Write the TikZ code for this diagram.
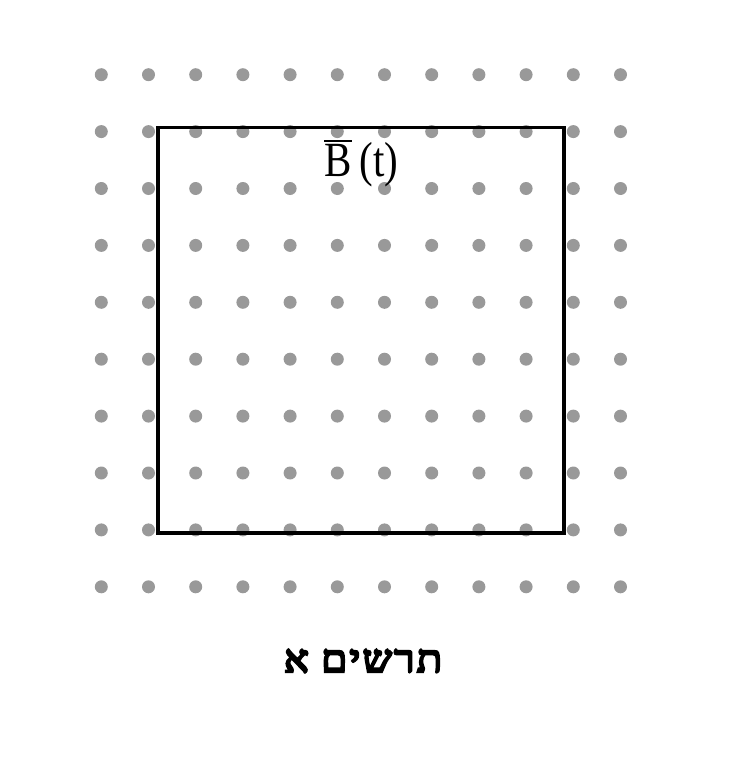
\documentclass[tikz,border=0pt]{standalone}
\usepackage{fontspec}
\setmainfont{Liberation Serif}
\newfontfamily\hebfont[Script=Hebrew,FakeBold=6,LetterSpace=6]{Liberation Serif}
\TeXXeTstate=1
\definecolor{dotgray}{HTML}{999999}
\tikzset{
  griddot/.style={circle, fill=dotgray, inner sep=0pt, minimum size=13pt},
  frame/.style={draw=black, line width=3.3pt},
  lbl/.style={inner sep=0pt, font=\fontsize{41}{45}\selectfont},
  caption/.style={inner sep=0pt, font=\hebfont\fontsize{38}{42}\selectfont}
}
\begin{document}
\begin{tikzpicture}[x=1pt,y=-1pt]
\useasboundingbox (0,0) rectangle (730,760);
\foreach \i in {0,...,11}{
  \foreach \j in {0,...,9}{
    \node[griddot] (d\i-\j) at ({101.3+47.2*\i},{74.7+56.9*\j}) {};
  }
}
\coordinate (tl) at (158,127.5);
\coordinate (br) at (564,533);
\draw[frame] (tl) rectangle (br);
\node[lbl, anchor=base] (B) at (361.4,176.7) {\scalebox{1}[1.2]{\makebox[0pt][l]{\rule[29pt]{28pt}{1.2pt}}B\hspace{8pt}(t)}};
\node[caption, anchor=base] (cap) at (363,672) {\scalebox{1.08}[1]{\beginR תרשים א\endR}};
\end{tikzpicture}
\end{document}
